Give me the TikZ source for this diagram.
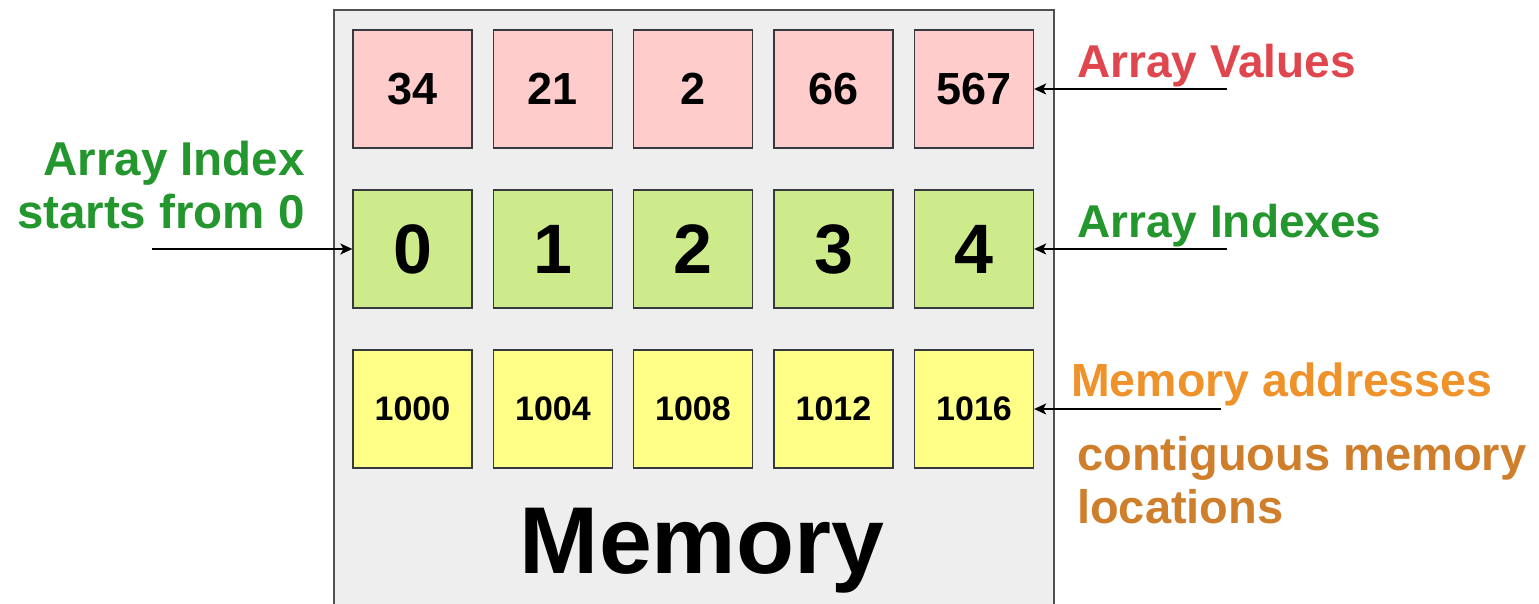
\documentclass[tikz,border=0pt]{standalone}
\usepackage{fontspec}
\setmainfont{Liberation Sans}
\usetikzlibrary{arrows.meta}
\definecolor{outerfill}{HTML}{EEEEEE}
\definecolor{outerline}{HTML}{505050}
\definecolor{valfill}{HTML}{FFCCCC}
\definecolor{idxfill}{HTML}{CDEB8B}
\definecolor{adrfill}{HTML}{FFFF88}
\definecolor{boxline}{HTML}{36393D}
\definecolor{lblred}{HTML}{E0464E}
\definecolor{lblgreen}{HTML}{23962E}
\definecolor{lblorange}{HTML}{F0922A}
\definecolor{lbldkorange}{HTML}{CF7F2C}
\tikzset{
  cell/.style={draw=boxline, line width=1.3pt, minimum width=119pt, minimum height=118pt, inner sep=0pt, font=\bfseries},
  valcell/.style={cell, fill=valfill, font=\bfseries\fontsize{45}{50}\selectfont},
  idxcell/.style={cell, fill=idxfill, font=\bfseries\fontsize{70}{76}\selectfont},
  adrcell/.style={cell, fill=adrfill, font=\bfseries\fontsize{34}{40}\selectfont},
  lbl/.style={anchor=base west, inner sep=0pt, font=\bfseries\fontsize{46}{53}\selectfont},
  pointer/.style={line width=1.8pt, -{Stealth[length=12pt,width=11pt,inset=3pt]}}
}
\begin{document}
\begin{tikzpicture}[x=1pt,y=-1pt]
\useasboundingbox (0,0) rectangle (1539,603);
\fill[white] (0,0) rectangle (1539,603);
\begin{scope}
\clip (0,0) rectangle (1539,603);
\node[draw=outerline, fill=outerfill, line width=1.5pt, anchor=north west, minimum width=720pt, minimum height=620pt, inner sep=0pt] (mem) at (333,9) {};
\end{scope}
% values row
\node[valcell] (v0) at (412.5,89) {34};
\node[valcell] (v1) at (553,89) {21};
\node[valcell] (v2) at (693,89) {2};
\node[valcell] (v3) at (833.5,89) {66};
\node[valcell] (v4) at (974,89) {567};
% index row
\node[idxcell] (i0) at (412.5,249) {0};
\node[idxcell] (i1) at (553,249) {1};
\node[idxcell] (i2) at (693,249) {2};
\node[idxcell] (i3) at (833.5,249) {3};
\node[idxcell] (i4) at (974,249) {4};
% address row
\node[adrcell] (a0) at (412.5,409) {1000};
\node[adrcell] (a1) at (553,409) {1004};
\node[adrcell] (a2) at (693,409) {1008};
\node[adrcell] (a3) at (833.5,409) {1012};
\node[adrcell] (a4) at (974,409) {1016};
% memory title
\node[anchor=base, inner sep=0pt, font=\bfseries\fontsize{95}{100}\selectfont] (memtitle) at (702,573) {Memory};
% labels
\node[lbl, text=lblred] (lv) at (1077,77) {Array Values};
\node[lbl, text=lblgreen] (li) at (1077,237) {Array Indexes};
\node[lbl, text=lblorange] (la) at (1071,396) {\fontsize{46.5}{53}\selectfont Memory addresses};
\node[lbl, text=lbldkorange, align=left, anchor=north west] (lc) at (1077,436) {\fontsize{47}{57}\selectfont contiguous memory\\ \fontsize{47}{57}\selectfont locations};
\node[anchor=north east, inner sep=0pt, align=right, text=lblgreen, font=\bfseries\fontsize{47.5}{53}\selectfont] (ls) at (305,141) {Array Index\\starts from 0};
% pointers
\coordinate (pv) at (1227,89);
\coordinate (pi) at (1227,249);
\coordinate (pa) at (1221,409);
\coordinate (ps) at (152,249);
\draw[pointer] (pv) -- (v4.east);
\draw[pointer] (pi) -- (i4.east);
\draw[pointer] (pa) -- (a4.east);
\draw[pointer] (ps) -- (i0.west);
\end{tikzpicture}
\end{document}
